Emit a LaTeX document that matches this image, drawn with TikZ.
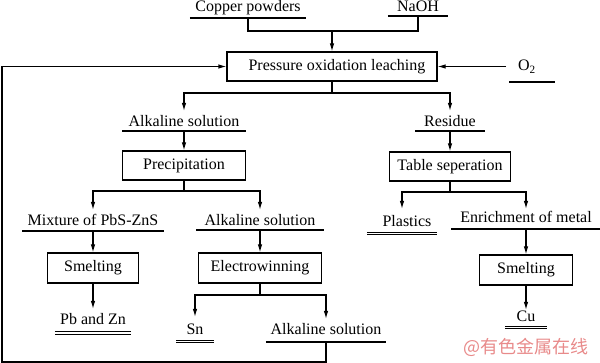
\documentclass[tikz,border=0pt]{standalone}
\usepackage{fontspec}
\setmainfont{Liberation Serif}
\newfontfamily\cjkfont{Noto Sans CJK SC}
\usepackage{xcolor}
\usetikzlibrary{arrows.meta}
\definecolor{wmark}{RGB}{232,138,138}

\begin{document}
\begin{tikzpicture}[x=1pt, y=-1pt, line width=1.1pt,
  font=\rmfamily\fontsize{16}{19}\selectfont,
  box/.style={draw, inner sep=0pt, minimum height=29pt},
  lbl/.style={inner sep=0pt, anchor=south, text height=15pt, text depth=5pt},
  arr/.style={-{Latex[length=8pt,width=4.5pt]}},
  dbl/.style={double, double distance=1.8pt, line width=0.9pt}]
\useasboundingbox (0,0) rectangle (600,363);

\node[lbl, minimum width=115pt, text depth=6pt] (cu) at (248,18) {Copper powders};
\node[lbl, minimum width=59pt, text depth=4pt] (naoh) at (418,16) {NaOH};
\node[box, minimum width=210pt] (pol) at (332,66.5) {\hspace*{10pt}Pressure oxidation leaching};
\node[lbl, minimum width=44pt, text depth=11pt] (otwo) at (532,82) {O\textsubscript{2}\hspace*{10pt}};

\node[lbl, minimum width=122pt, text depth=4pt] (als1) at (184,131) {Alkaline solution};
\node[lbl, minimum width=68pt, text depth=4pt] (res) at (450,131) {Residue};
\node[box, minimum width=123pt] (pre) at (184,165.5) {Precipitation};
\node[box, minimum width=121pt] (tab) at (450,166.5) {Table seperation};

\node[lbl, minimum width=140pt] (mix) at (93,231) {Mixture of PbS-ZnS};
\node[lbl, minimum width=126pt, text depth=4pt] (als2) at (260,230) {Alkaline solution};
\node[lbl, minimum width=69pt, text depth=6.5pt, text height=17pt] (pla) at (402,233.5) {\hspace*{10pt}Plastics};
\node[lbl, minimum width=148pt, text depth=6pt, text height=13pt] (enr) at (526,229) {Enrichment of metal};

\node[box, minimum width=91pt, minimum height=30pt] (smA) at (93,268) {Smelting};
\node[box, minimum width=123pt, minimum height=30pt] (ele) at (260,268) {Electrowinning};
\node[box, minimum width=93pt, minimum height=30pt] (smB) at (526,270) {Smelting};

\node[lbl, minimum width=75pt, text depth=8pt] (pbzn) at (93,333) {Pb and Zn};
\node[lbl, minimum width=36pt, text depth=6.5pt, text height=17pt] (sn) at (195,341.5) {Sn};
\node[lbl, minimum width=119pt, text depth=7pt] (als3) at (326,342) {Alkaline solution};
\node[lbl, minimum width=40pt, text depth=5.5pt, text height=11pt] (cul) at (526,327.5) {Cu};

\node[text=wmark, font=\cjkfont\fontsize{18}{20}\selectfont] (wm) at (526,347) {@有色金属在线};

\foreach \n in {cu,naoh,otwo,als1,res,mix,als2,enr,als3}
  \draw (\n.south west) -- (\n.south east);
\foreach \n in {pla,pbzn,sn,cul}
  \draw[dbl] (\n.south west) -- (\n.south east);

\coordinate (j1) at (332,31);
\coordinate (j2) at (332,93);
\coordinate (j3) at (184,191);
\coordinate (j4) at (450,192);
\coordinate (j5) at (260,295);
\coordinate (o2a) at (506,66.5);
\coordinate (fb) at (2,362);

\draw (cu.south) |- (j1) -| (naoh.south);
\draw[arr] (j1) -- (pol.north);
\draw[arr] (o2a) -- (pol.east);
\draw (pol.south) -- (j2);
\draw[arr] (j2) -| (als1.north);
\draw[arr] (j2) -| (res.north);
\draw[arr] (als1.south) -- (pre.north);
\draw[arr] (res.south) -- (tab.north);
\draw (pre.south) -- (j3);
\draw[arr] (j3) -| (mix.north);
\draw[arr] (j3) -| (als2.north);
\draw (tab.south) -- (j4);
\draw[arr] (j4) -| (pla.north);
\draw[arr] (j4) -| (enr.north);
\draw[arr] (mix.south) -- (smA.north);
\draw[arr] (als2.south) -- (ele.north);
\draw[arr] (enr.south) -- (smB.north);
\draw[arr] (smA.south) -- (pbzn.north);
\draw (ele.south) -- (j5);
\draw[arr] (j5) -| (sn.north);
\draw[arr] (j5) -| (als3.north);
\draw[arr] (smB.south) -- (cul.north);
\draw[arr] (als3.south) |- (fb) |- (pol.west);
\end{tikzpicture}
\end{document}
